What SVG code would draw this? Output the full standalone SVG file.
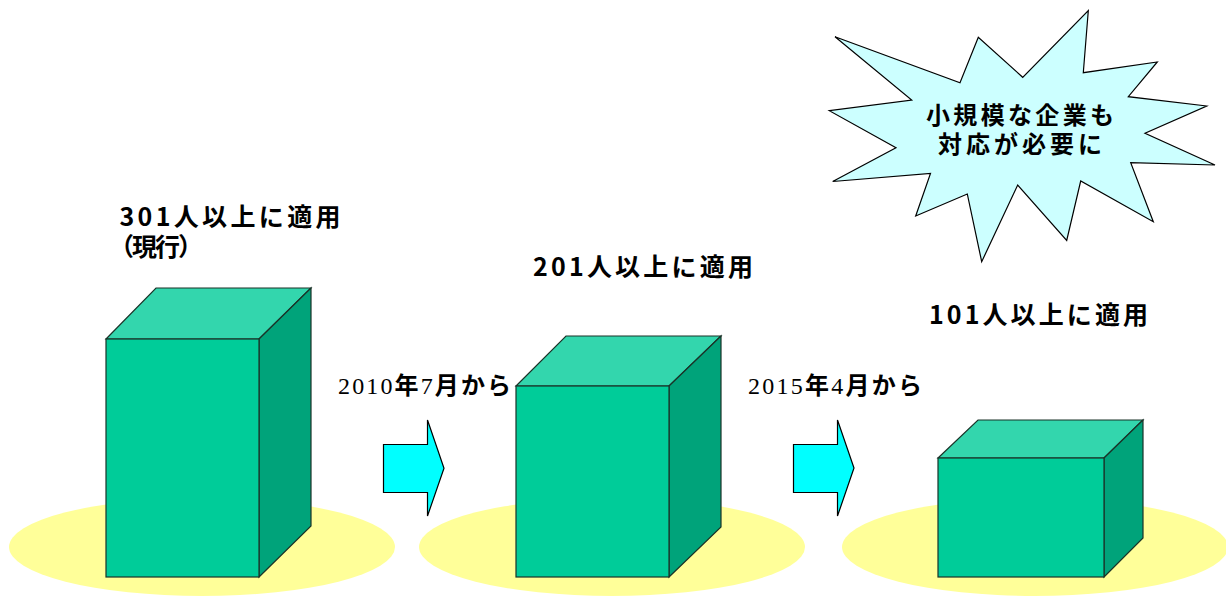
<svg xmlns="http://www.w3.org/2000/svg" width="1226" height="596" viewBox="0 0 1226 596">
<style>
.base{fill:#FFFF99;stroke:none}
.front{fill:#00CC99;stroke:#1a3328;stroke-width:1.2}
.top{fill:#33D6AD;stroke:#1a3328;stroke-width:1.2}
.side{fill:#00A37A;stroke:#1a3328;stroke-width:1.2}
.lbl{font-family:"Noto Sans CJK JP","Liberation Sans",sans-serif;font-weight:bold;font-size:25px;fill:#000}
.sm{font-size:24px}
.ser{font-family:"Liberation Serif",serif;font-weight:normal;font-size:24px}
.arrow{fill:#00FFFF;stroke:#000;stroke-width:1.2;stroke-linejoin:miter}
.burst{fill:#CCFFFF;stroke:#000;stroke-width:1.2;stroke-linejoin:miter}
</style>
<rect width="1226" height="596" fill="#fff"/>
<g id="stage-301">
<ellipse class="base" cx="202" cy="547" rx="193" ry="49"/>
<polygon class="top" points="106,339 156,288 311,288 259,339"/>
<polygon class="side" points="259,339 311,288 311,526 259,577"/>
<rect class="front" x="106" y="339" width="153" height="238"/>
<text class="lbl" x="119.5" y="226" textLength="221" lengthAdjust="spacing">301人以上に適用</text>
<text class="lbl" x="109" y="256" textLength="94" lengthAdjust="spacing">（現行）</text>
</g>
<g id="stage-201">
<ellipse class="base" cx="612" cy="547" rx="193" ry="49"/>
<polygon class="top" points="516,386 566,336 721,336 669,386"/>
<polygon class="side" points="669,386 721,336 721,527 669,577"/>
<rect class="front" x="516" y="386" width="153" height="191"/>
<text class="lbl" x="533" y="276" textLength="220" lengthAdjust="spacing">201人以上に適用</text>
</g>
<g id="stage-101">
<ellipse class="base" cx="1035" cy="547" rx="193" ry="49"/>
<polygon class="top" points="938,458 978,420 1143,420 1104,458"/>
<polygon class="side" points="1104,458 1143,420 1143,538 1104,577"/>
<rect class="front" x="938" y="458" width="166" height="119"/>
<text class="lbl" x="929" y="324" textLength="219" lengthAdjust="spacing">101人以上に適用</text>
</g>
<g id="connectors">
<polygon class="arrow" points="383.5,444.5 427.5,444.5 427.5,420 444,468.2 427.5,516 427.5,492.5 383.5,492.5"/>
<text class="lbl sm" x="338" y="394" textLength="173" lengthAdjust="spacing"><tspan class="ser">2010</tspan>年<tspan class="ser">7</tspan>月から</text>
<polygon class="arrow" points="793.5,444.5 837.5,444.5 837.5,420 854,468 837.5,516 837.5,492.5 793.5,492.5"/>
<text class="lbl sm" x="748" y="394" textLength="174" lengthAdjust="spacing"><tspan class="ser">2015</tspan>年<tspan class="ser">4</tspan>月から</text>
</g>
<g id="callout">
<polygon class="burst" points="835,36.7 960,82.7 978.3,37.3 1022.7,77.3 1088.3,10.7 1083.3,72.7 1157.3,62 1128.3,96.7 1206.7,106 1145,133.3 1215,165 1130.7,162.7 1153.3,221.7 1080.7,181 1066.7,240.5 1017.7,185 981.7,261.7 967.3,194 915.7,216 930.5,173.5 832.7,181.5 896,147.7 829.3,110.7 911.7,100"/>
<text class="lbl sm" x="1020" y="123.5" text-anchor="middle" textLength="188" lengthAdjust="spacing">小規模な企業も</text>
<text class="lbl sm" x="1020" y="152.5" text-anchor="middle" textLength="164" lengthAdjust="spacing">対応が必要に</text>
</g>
</svg>
